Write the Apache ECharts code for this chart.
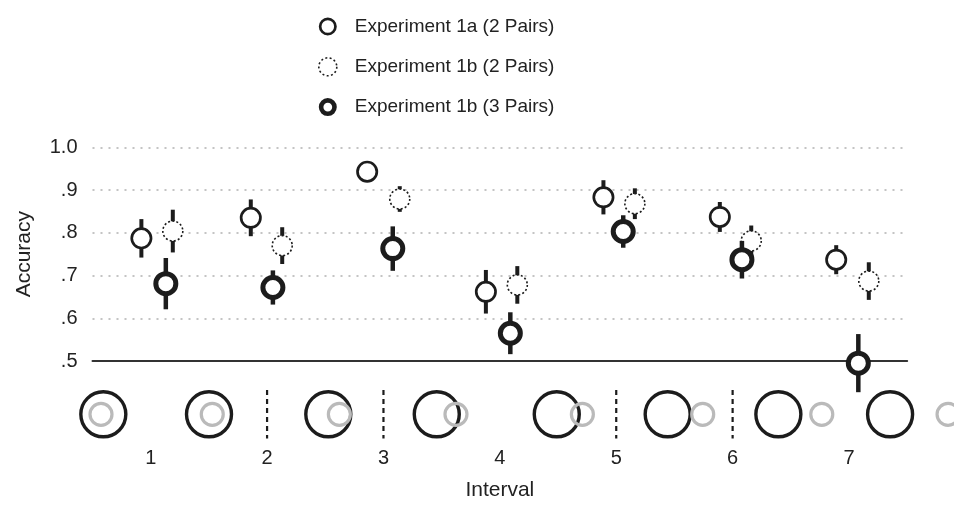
<!DOCTYPE html>
<html><head><meta charset="utf-8">
<script src="https://cdn.jsdelivr.net/npm/echarts@6/dist/echarts.min.js"></script>
<style>html,body{margin:0;padding:0;background:#fff}#c{width:954px;height:507px}</style>
</head><body><div id="c"></div>
<script>
// ---- data ----
const intervals = [1, 2, 3, 4, 5, 6, 7];
const seriesNames = ['Experiment 1a (2 Pairs)', 'Experiment 1b (2 Pairs)', 'Experiment 1b (3 Pairs)'];

const exp1aX   = [0.92, 1.86, 2.86, 3.88, 4.89, 5.89, 6.89];
const exp1aY   = [0.787, 0.835, 0.943, 0.662, 0.883, 0.837, 0.737];
const exp1aErr = [0.045, 0.043, 0.012, 0.051, 0.040, 0.035, 0.034];

const exp1b2X   = [1.19, 2.13, 3.14, 4.15, 5.16, 6.16, 7.17];
const exp1b2Y   = [0.804, 0.770, 0.879, 0.678, 0.868, 0.781, 0.687];
const exp1b2Err = [0.050, 0.043, 0.030, 0.044, 0.036, 0.036, 0.044];

const exp1b3X   = [1.13, 2.05, 3.08, 4.09, 5.06, 6.08, 7.08];
const exp1b3Y   = [0.681, 0.672, 0.763, 0.565, 0.803, 0.737, 0.495];
const exp1b3Err = [0.060, 0.040, 0.052, 0.049, 0.038, 0.044, 0.068];

// interval illustration below the axis
const pairBigX   = [0.593, 1.501, 2.526, 3.458, 4.489, 5.442, 6.393, 7.353];
const pairSmallX = [0.573, 1.529, 2.621, 3.623, 4.709, 5.743, 6.766, 7.851];
const separatorX = [2, 3, 5, 6];

// ---- styling ----
const INK = '#1c1c1c';
const FONT = 'Liberation Sans, Arial, sans-serif';

function zip3(a, b, c) { return a.map((v, i) => [v, b[i], c[i]]); }

function makeRender(st) {
  return function (params, api) {
    const x = api.value(0), y = api.value(1), e = api.value(2);
    const c = api.coord([x, y]);
    const t = api.coord([x, y + e]);
    const b = api.coord([x, y - e]);
    return {
      type: 'group',
      children: [
        { type: 'line', shape: { x1: c[0], y1: t[1], x2: c[0], y2: b[1] },
          style: { stroke: INK, lineWidth: st.barW } },
        { type: 'circle', shape: { cx: c[0], cy: c[1], r: st.r },
          style: { fill: '#fff', stroke: INK, lineWidth: st.lw, lineDash: st.dash || null } }
      ]
    };
  };
}

const ringPath = (ro, ri) =>
  `path://M${ro},0A${ro},${ro},0,1,1,${ro},${2*ro}A${ro},${ro},0,1,1,${ro},0Z` +
  `M${ro},${ro-ri}A${ri},${ri},0,1,0,${ro},${ro+ri}A${ri},${ri},0,1,0,${ro},${ro-ri}Z`;

const chart = echarts.init(document.getElementById('c'), null, { renderer: 'canvas' });
chart.setOption({
  animation: false,
  backgroundColor: '#fff',
  textStyle: { fontFamily: FONT },
  legend: {
    orient: 'vertical', left: 313, top: 12,
    itemWidth: 18, itemHeight: 18, itemGap: 21,
    selectedMode: false,
    textStyle: { fontFamily: FONT, fontSize: 19, color: '#222', padding: [0, 0, 0, 13] },
    data: [
      { name: seriesNames[0], icon: ringPath(9, 6.3), itemStyle: { color: INK, borderWidth: 0 } },
      { name: seriesNames[1], icon: 'circle',
        itemStyle: { color: '#fff', borderColor: INK, borderWidth: 1.6, borderType: [2, 2.4] } },
      { name: seriesNames[2], icon: ringPath(9, 4.4), itemStyle: { color: INK, borderWidth: 0 } }
    ]
  },
  grid: [
    { left: 92.5, right: 46.8, top: 147.3, bottom: 146 },
    { left: 92.5, right: 46.8, top: 390, height: 48.6 }
  ],
  xAxis: [
    {
      gridIndex: 0, type: 'value', min: 0.5, max: 7.5, interval: 0.5,
      name: 'Interval', nameLocation: 'middle', nameGap: 119,
      nameTextStyle: { fontFamily: FONT, fontSize: 21, color: '#222' },
      axisLine: { show: true, lineStyle: { color: '#333', width: 2 } },
      axisTick: { show: false },
      splitLine: { show: false },
      axisLabel: {
        margin: 87, fontFamily: FONT, fontSize: 20, color: '#222',
        formatter: v => (intervals.indexOf(v) >= 0 ? String(v) : '')
      }
    },
    { gridIndex: 1, type: 'value', min: 0.5, max: 7.5, show: false }
  ],
  yAxis: [
    {
      gridIndex: 0, type: 'value', min: 0.5, max: 1.0, interval: 0.1,
      name: 'Accuracy', nameLocation: 'middle', nameGap: 58, nameRotate: 90,
      nameTextStyle: { fontFamily: FONT, fontSize: 21, color: '#222' },
      axisLine: { show: false }, axisTick: { show: false },
      splitLine: { show: true, lineStyle: { color: '#c4c4c4', width: 2, type: [2, 6] } },
      axisLabel: {
        margin: 15, fontFamily: FONT, fontSize: 20, color: '#222',
        formatter: v => (Math.abs(v - 1) < 1e-9 ? '1.0' : v.toFixed(1).replace(/^0/, ''))
      }
    },
    { gridIndex: 1, type: 'value', min: 0, max: 1, show: false }
  ],
  series: [
    {
      type: 'scatter', xAxisIndex: 1, yAxisIndex: 1, silent: true, clip: false,
      data: pairBigX.map(x => [x, 0.5]), symbol: 'circle', symbolSize: 45,
      itemStyle: { color: 'rgba(0,0,0,0)', borderColor: INK, borderWidth: 3.4, opacity: 1 }, z: 2
    },
    {
      type: 'scatter', xAxisIndex: 1, yAxisIndex: 1, silent: true, clip: false,
      data: pairSmallX.map(x => [x, 0.5]), symbol: 'circle', symbolSize: 22,
      itemStyle: { color: 'rgba(0,0,0,0)', borderColor: '#bababa', borderWidth: 3.2, opacity: 1 }, z: 3
    },
    {
      type: 'custom', xAxisIndex: 1, yAxisIndex: 1, silent: true,
      data: separatorX.map(x => [x]),
      renderItem: function (params, api) {
        const x = api.value(0);
        const a = api.coord([x, 0]), b = api.coord([x, 1]);
        return { type: 'line', shape: { x1: a[0], y1: b[1], x2: a[0], y2: a[1] },
          style: { stroke: INK, lineWidth: 2.2, lineDash: [5, 4] } };
      }
    },
    {
      name: seriesNames[0], type: 'custom', xAxisIndex: 0, yAxisIndex: 0, z: 5,
      itemStyle: { color: INK },
      dimensions: ['x', 'y', 'err'], encode: { x: 0, y: 1 },
      data: zip3(exp1aX, exp1aY, exp1aErr),
      renderItem: makeRender({ r: 9.65, lw: 2.7, barW: 4 })
    },
    {
      name: seriesNames[1], type: 'custom', xAxisIndex: 0, yAxisIndex: 0, z: 6,
      itemStyle: { color: INK },
      dimensions: ['x', 'y', 'err'], encode: { x: 0, y: 1 },
      data: zip3(exp1b2X, exp1b2Y, exp1b2Err),
      renderItem: makeRender({ r: 10, lw: 1.6, barW: 4, dash: [2, 2.2] })
    },
    {
      name: seriesNames[2], type: 'custom', xAxisIndex: 0, yAxisIndex: 0, z: 7,
      itemStyle: { color: INK },
      dimensions: ['x', 'y', 'err'], encode: { x: 0, y: 1 },
      data: zip3(exp1b3X, exp1b3Y, exp1b3Err),
      renderItem: makeRender({ r: 10, lw: 5, barW: 4.5 })
    }
  ]
});
</script>
</body></html>
